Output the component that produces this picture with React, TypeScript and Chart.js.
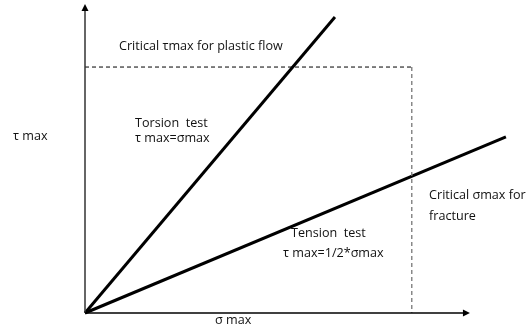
import { useEffect, useRef } from "react";
import { Chart, registerables } from "chart.js";

Chart.register(...registerables);

// Schematic values (arbitrary units)
const torsionSigma = [0, 5.63];
const torsionTau = [0, 9.58];
const tensionSigma = [0, 9.48];
const tensionTau = [0, 5.7];
const criticalTau = 7.96;
const criticalSigma = 7.36;
const sigmaAxisEnd = 8.67;
const tauAxisEnd = 10;

const axisTitles = ["σ max", "τ max"];
const torsionLabels = ["Torsion  test", "τ max=σmax"];
const tensionLabels = ["Tension  test", "τ max=1/2*σmax"];
const criticalTauLabel = "Critical τmax for plastic flow";
const criticalSigmaLabels = ["Critical σmax for", "fracture"];

const FONT = '12.6px "Open Sans"';

const annotate = {
  id: "annotate",
  afterDatasetsDraw(chart: any) {
    const { ctx, scales } = chart;
    const xs = scales.x;
    const ys = scales.y;
    const px = (v: number) => xs.getPixelForValue(v);
    const py = (v: number) => ys.getPixelForValue(v);
    ctx.save();
    // arrowheads
    ctx.fillStyle = "#000";
    const ax = px(sigmaAxisEnd);
    const ay = py(0);
    ctx.beginPath();
    ctx.moveTo(ax, ay);
    ctx.lineTo(ax - 7, ay - 3.5);
    ctx.lineTo(ax - 7, ay + 3.5);
    ctx.closePath();
    ctx.fill();
    const bx = px(0);
    const by = py(tauAxisEnd);
    ctx.beginPath();
    ctx.moveTo(bx, by);
    ctx.lineTo(bx - 3.5, by + 7);
    ctx.lineTo(bx + 3.5, by + 7);
    ctx.closePath();
    ctx.fill();

    ctx.font = FONT;
    ctx.textBaseline = "middle";
    ctx.textAlign = "left";
    ctx.fillStyle = "#111";
    const t = (s: string, x: number, y: number) => ctx.fillText(s, px(x), py(y));
    t(criticalTauLabel, 0.766, 8.64);
    t(torsionLabels[0], 1.126, 6.15);
    t(torsionLabels[1], 1.126, 5.66);
    t(axisTitles[1], -1.62, 5.7);
    t(tensionLabels[0], 4.64, 2.56);
    t(tensionLabels[1], 4.46, 1.94);
    t(criticalSigmaLabels[0], 7.75, 3.82);
    t(criticalSigmaLabels[1], 7.75, 3.11);
    t(axisTitles[0], 2.93, -0.23);
    ctx.restore();
  },
};

export default function App() {
  const ref = useRef<HTMLCanvasElement>(null);
  useEffect(() => {
    document.body.style.margin = "0";
    const pts = (xs: number[], ys: number[]) => xs.map((x, i) => ({ x, y: ys[i] }));
    const chart = new Chart(ref.current!, {
      type: "scatter",
      data: {
        datasets: [
          {
            data: [{ x: 0, y: 0 }, { x: sigmaAxisEnd - 0.1, y: 0 }],
            borderColor: "#000",
            borderWidth: 1.5,
          },
          {
            data: [{ x: 0, y: 0 }, { x: 0, y: tauAxisEnd - 0.1 }],
            borderColor: "#333",
            borderWidth: 1.5,
          },
          {
            data: [{ x: 0, y: criticalTau }, { x: criticalSigma, y: criticalTau }],
            borderColor: "#000",
            borderWidth: 1,
            borderDash: [4, 3],
          },
          {
            data: [{ x: criticalSigma, y: criticalTau }, { x: criticalSigma, y: 0 }],
            borderColor: "#777",
            borderWidth: 1.3,
            borderDash: [4, 3],
          },
          {
            data: pts(torsionSigma, torsionTau),
            borderColor: "#000",
            borderWidth: 3,
          },
          {
            data: pts(tensionSigma, tensionTau),
            borderColor: "#000",
            borderWidth: 3,
          },
        ].map((d) => ({ ...d, showLine: true, pointRadius: 0, clip: false as any })),
      },
      options: {
        animation: false,
        responsive: false,
        events: [],
        layout: { padding: { left: 85, right: 0, top: 4, bottom: 14 } },
        scales: {
          x: { type: "linear", min: 0, max: 10, display: false },
          y: { type: "linear", min: 0, max: 10, display: false },
        },
        plugins: { legend: { display: false }, tooltip: { enabled: false } },
      },
      plugins: [annotate],
    });
    return () => chart.destroy();
  }, []);
  return (
    <div style={{ width: 529, height: 327 }}>
      <canvas ref={ref} width={529} height={327} />
    </div>
  );
}
